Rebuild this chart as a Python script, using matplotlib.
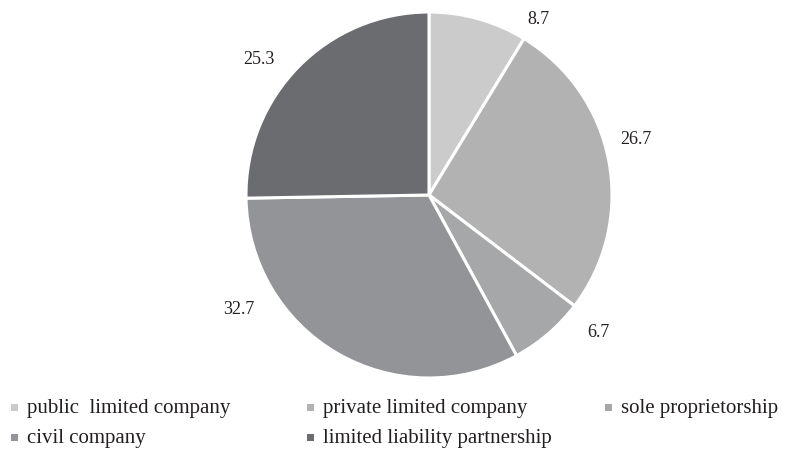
import numpy as np
import matplotlib
matplotlib.use("Agg")
from matplotlib import pyplot as plt
from matplotlib.patches import Rectangle

# company legal forms, share in percent
categories = ["public  limited company", "private limited company",
              "sole proprietorship", "civil company",
              "limited liability partnership"]
shares = [8.7, 26.7, 6.7, 32.7, 25.3]
share_labels = ["8.7", "26.7", "6.7", "32.7", "25.3"]

colors = ["#cbcbcb", "#b2b2b2", "#a6a7a9", "#939497", "#6b6c70"]
# where each value label sits (angle in degrees, distance in radii)
label_angles = [58, 15, -39, -149, 141.5]
label_dists = [1.13, 1.17, 1.19, 1.21, 1.19]

plt.rcParams['font.family'] = ['Liberation Serif', 'DejaVu Serif']

W, H = 789, 451
fig = plt.figure(figsize=(W / 100, H / 100), dpi=100)

# pie centre at (429, 195) px from top-left, radius 183 px
cx, cy, r = 429, 195, 183
ax = fig.add_axes([(cx - r) / W, (H - cy - r) / H, 2 * r / W, 2 * r / H])
ax.pie(shares, colors=colors, startangle=90, counterclock=False,
       radius=1, wedgeprops=dict(edgecolor="white", linewidth=2.2))
ax.set_xlim(-1, 1)
ax.set_ylim(-1, 1)
ax.axis("off")

for txt, ang, dist in zip(share_labels, label_angles, label_dists):
    a = np.radians(ang)
    ax.text(dist * np.cos(a), dist * np.sin(a), txt, ha="center",
            va="center", fontsize=13, color="#231f20")

# legend drawn by hand: 3 columns, 2 rows
col_x = [27, 323, 621]
row_base = [413, 443]
for i, (name, c) in enumerate(zip(categories, colors)):
    x = col_x[i % 3]
    yb = row_base[i // 3]
    fig.patches.append(Rectangle(((x - 16) / W, (H - yb + 2) / H), 7 / W, 7 / H,
                                 transform=fig.transFigure, facecolor=c,
                                 edgecolor="none"))
    fig.text(x / W, (H - yb) / H, name, ha="left", va="baseline",
             fontsize=15, color="#231f20")

fig.savefig("out.png", dpi=100)
